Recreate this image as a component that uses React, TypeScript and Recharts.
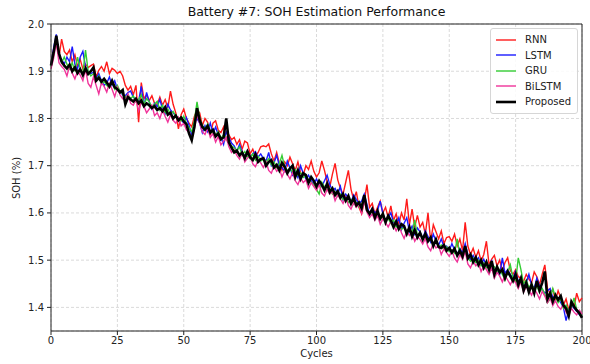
import React from 'react';
import { LineChart, Line, XAxis, YAxis, CartesianGrid, ReferenceLine, Legend } from 'recharts';

const FONT = '"DejaVu Sans", Verdana, sans-serif';

// cycle index 0..200
const cycles = Array.from({ length: 201 }, (_, i) => i);

const xTicks = [0, 25, 50, 75, 100, 125, 150, 175, 200];
const yTicks = [1.4, 1.5, 1.6, 1.7, 1.8, 1.9, 2.0];

const rnn = [
  1.915, 1.945, 1.960, 1.930, 1.968, 1.942, 1.935, 1.945, 1.920, 1.935,
  1.910, 1.925, 1.905, 1.915, 1.908, 1.912, 1.915, 1.888, 1.902, 1.910,
  1.900, 1.920, 1.895, 1.906, 1.902, 1.895, 1.900, 1.890, 1.870, 1.860,
  1.868, 1.850, 1.870, 1.792, 1.876, 1.842, 1.850, 1.838, 1.848, 1.832,
  1.830, 1.845, 1.828, 1.840, 1.822, 1.858, 1.830, 1.812, 1.778, 1.808,
  1.820, 1.800, 1.790, 1.782, 1.804, 1.818, 1.812, 1.785, 1.800, 1.792,
  1.764, 1.790, 1.795, 1.775, 1.770, 1.782, 1.755, 1.765, 1.755, 1.760,
  1.745, 1.755, 1.735, 1.752, 1.748, 1.725, 1.735, 1.720, 1.728, 1.740,
  1.742, 1.740, 1.746, 1.725, 1.710, 1.728, 1.705, 1.690, 1.708, 1.700,
  1.718, 1.704, 1.690, 1.708, 1.685, 1.680, 1.700, 1.692, 1.710, 1.688,
  1.676, 1.685, 1.710, 1.690, 1.666, 1.655, 1.682, 1.705, 1.670, 1.652,
  1.640, 1.665, 1.690, 1.650, 1.628, 1.645, 1.612, 1.598, 1.625, 1.660,
  1.612, 1.620, 1.598, 1.612, 1.625, 1.600, 1.612, 1.590, 1.615, 1.584,
  1.598, 1.575, 1.600, 1.585, 1.630, 1.575, 1.608, 1.570, 1.595, 1.570,
  1.580, 1.555, 1.600, 1.540, 1.575, 1.560, 1.545, 1.562, 1.535, 1.548,
  1.550, 1.540, 1.555, 1.530, 1.545, 1.520, 1.580, 1.530, 1.512, 1.525,
  1.506, 1.520, 1.498, 1.512, 1.540, 1.490, 1.502, 1.510, 1.488, 1.500,
  1.478, 1.495, 1.505, 1.478, 1.470, 1.480, 1.465, 1.462, 1.455, 1.470,
  1.460, 1.452, 1.475, 1.465, 1.448, 1.470, 1.490, 1.440, 1.430, 1.438,
  1.415, 1.435, 1.420, 1.405, 1.418, 1.395, 1.408, 1.400, 1.430, 1.412,
  1.420,
];

const lstm = [
  1.915, 1.950, 1.978, 1.930, 1.925, 1.915, 1.930, 1.920, 1.952, 1.915,
  1.905, 1.930, 1.942, 1.910, 1.900, 1.895, 1.898, 1.885, 1.895, 1.880,
  1.870, 1.875, 1.888, 1.870, 1.880, 1.862, 1.858, 1.850, 1.848, 1.855,
  1.858, 1.845, 1.840, 1.836, 1.868, 1.825, 1.855, 1.835, 1.820, 1.832,
  1.825, 1.840, 1.820, 1.810, 1.830, 1.818, 1.812, 1.805, 1.800, 1.798,
  1.790, 1.802, 1.785, 1.765, 1.790, 1.800, 1.790, 1.770, 1.785, 1.772,
  1.790, 1.768, 1.782, 1.765, 1.760, 1.745, 1.772, 1.760, 1.748, 1.742,
  1.730, 1.745, 1.728, 1.720, 1.732, 1.718, 1.725, 1.730, 1.718, 1.725,
  1.715, 1.710, 1.728, 1.700, 1.706, 1.722, 1.700, 1.696, 1.688, 1.710,
  1.695, 1.680, 1.690, 1.675, 1.700, 1.684, 1.672, 1.680, 1.668, 1.662,
  1.672, 1.660, 1.656, 1.668, 1.680, 1.660, 1.648, 1.652, 1.640, 1.656,
  1.628, 1.640, 1.632, 1.622, 1.638, 1.628, 1.620, 1.625, 1.640, 1.618,
  1.596, 1.610, 1.600, 1.605, 1.625, 1.598, 1.585, 1.590, 1.600, 1.580,
  1.575, 1.590, 1.565, 1.578, 1.590, 1.560, 1.572, 1.555, 1.568, 1.560,
  1.545, 1.562, 1.550, 1.538, 1.555, 1.540, 1.532, 1.545, 1.528, 1.530,
  1.520, 1.535, 1.522, 1.512, 1.525, 1.515, 1.535, 1.512, 1.500, 1.510,
  1.496, 1.505, 1.490, 1.502, 1.488, 1.485, 1.498, 1.478, 1.485, 1.470,
  1.505, 1.472, 1.480, 1.470, 1.462, 1.476, 1.455, 1.460, 1.445, 1.452,
  1.470, 1.448, 1.440, 1.462, 1.445, 1.438, 1.430, 1.435, 1.440, 1.420,
  1.425, 1.418, 1.410, 1.400, 1.372, 1.395, 1.405, 1.398, 1.392, 1.385,
  1.380,
];

const gru = [
  1.910, 1.940, 1.970, 1.935, 1.918, 1.930, 1.915, 1.905, 1.918, 1.900,
  1.930, 1.905, 1.895, 1.945, 1.900, 1.890, 1.895, 1.880, 1.890, 1.872,
  1.878, 1.870, 1.865, 1.878, 1.862, 1.870, 1.858, 1.852, 1.845, 1.850,
  1.842, 1.848, 1.835, 1.840, 1.850, 1.830, 1.842, 1.835, 1.825, 1.830,
  1.836, 1.818, 1.828, 1.812, 1.820, 1.808, 1.815, 1.805, 1.800, 1.795,
  1.805, 1.790, 1.780, 1.772, 1.795, 1.835, 1.800, 1.785, 1.778, 1.788,
  1.775, 1.770, 1.765, 1.772, 1.758, 1.765, 1.760, 1.748, 1.742, 1.738,
  1.732, 1.740, 1.722, 1.730, 1.720, 1.715, 1.725, 1.712, 1.720, 1.710,
  1.714, 1.708, 1.715, 1.702, 1.708, 1.696, 1.704, 1.722, 1.698, 1.690,
  1.695, 1.685, 1.692, 1.680, 1.685, 1.675, 1.680, 1.670, 1.665, 1.660,
  1.650, 1.640, 1.665, 1.655, 1.648, 1.652, 1.640, 1.645, 1.635, 1.640,
  1.628, 1.632, 1.622, 1.628, 1.618, 1.622, 1.612, 1.618, 1.628, 1.605,
  1.598, 1.602, 1.592, 1.598, 1.588, 1.592, 1.582, 1.588, 1.578, 1.585,
  1.570, 1.575, 1.565, 1.570, 1.560, 1.568, 1.556, 1.585, 1.552, 1.558,
  1.545, 1.550, 1.540, 1.545, 1.535, 1.540, 1.528, 1.532, 1.522, 1.528,
  1.518, 1.522, 1.515, 1.545, 1.510, 1.515, 1.520, 1.505, 1.498, 1.504,
  1.495, 1.500, 1.488, 1.494, 1.484, 1.490, 1.480, 1.486, 1.475, 1.480,
  1.470, 1.458, 1.475, 1.490, 1.462, 1.455, 1.505, 1.480, 1.450, 1.458,
  1.442, 1.450, 1.438, 1.445, 1.432, 1.440, 1.428, 1.410, 1.418, 1.440,
  1.422, 1.410, 1.418, 1.398, 1.405, 1.392, 1.400, 1.420, 1.395, 1.388,
  1.382,
];

const bilstm = [
  1.905, 1.928, 1.962, 1.918, 1.910, 1.904, 1.890, 1.912, 1.896, 1.884,
  1.900, 1.892, 1.880, 1.904, 1.874, 1.866, 1.888, 1.870, 1.852, 1.876,
  1.868, 1.856, 1.874, 1.862, 1.846, 1.866, 1.850, 1.842, 1.838, 1.852,
  1.832, 1.828, 1.840, 1.816, 1.834, 1.826, 1.812, 1.820, 1.828, 1.806,
  1.812, 1.800, 1.818, 1.804, 1.792, 1.808, 1.796, 1.790, 1.802, 1.784,
  1.790, 1.776, 1.770, 1.756, 1.778, 1.808, 1.790, 1.772, 1.766, 1.780,
  1.760, 1.768, 1.750, 1.762, 1.744, 1.752, 1.760, 1.740, 1.728, 1.734,
  1.722, 1.714, 1.728, 1.708, 1.716, 1.722, 1.704, 1.698, 1.712, 1.706,
  1.696, 1.708, 1.690, 1.684, 1.700, 1.688, 1.694, 1.676, 1.690, 1.682,
  1.672, 1.686, 1.668, 1.660, 1.674, 1.664, 1.670, 1.652, 1.664, 1.656,
  1.648, 1.660, 1.642, 1.636, 1.650, 1.640, 1.646, 1.626, 1.638, 1.630,
  1.620, 1.634, 1.616, 1.608, 1.622, 1.612, 1.618, 1.600, 1.626, 1.602,
  1.590, 1.598, 1.584, 1.594, 1.576, 1.588, 1.580, 1.570, 1.582, 1.574,
  1.562, 1.574, 1.558, 1.546, 1.562, 1.552, 1.558, 1.540, 1.550, 1.544,
  1.534, 1.546, 1.528, 1.520, 1.536, 1.526, 1.530, 1.512, 1.524, 1.516,
  1.508, 1.520, 1.504, 1.496, 1.512, 1.502, 1.518, 1.492, 1.484, 1.498,
  1.488, 1.494, 1.476, 1.488, 1.480, 1.470, 1.484, 1.462, 1.474, 1.466,
  1.454, 1.468, 1.458, 1.448, 1.460, 1.452, 1.440, 1.454, 1.432, 1.444,
  1.436, 1.426, 1.440, 1.430, 1.418, 1.434, 1.424, 1.410, 1.420, 1.404,
  1.414, 1.402, 1.396, 1.408, 1.390, 1.382, 1.398, 1.390, 1.384, 1.394,
  1.386,
];

const proposed = [
  1.912, 1.940, 1.975, 1.938, 1.920, 1.912, 1.906, 1.914, 1.900, 1.908,
  1.896, 1.904, 1.892, 1.906, 1.894, 1.900, 1.908, 1.880, 1.886, 1.878,
  1.884, 1.876, 1.868, 1.880, 1.866, 1.862, 1.855, 1.860, 1.830, 1.845,
  1.840, 1.836, 1.842, 1.832, 1.838, 1.826, 1.832, 1.828, 1.822, 1.826,
  1.818, 1.822, 1.815, 1.824, 1.808, 1.812, 1.800, 1.806, 1.796, 1.802,
  1.794, 1.788, 1.768, 1.754, 1.782, 1.822, 1.796, 1.782, 1.776, 1.784,
  1.770, 1.776, 1.762, 1.768, 1.756, 1.760, 1.800, 1.750, 1.738, 1.728,
  1.732, 1.722, 1.728, 1.716, 1.730, 1.718, 1.712, 1.724, 1.708, 1.714,
  1.716, 1.700, 1.708, 1.712, 1.696, 1.702, 1.690, 1.706, 1.698, 1.684,
  1.694, 1.700, 1.676, 1.690, 1.672, 1.684, 1.680, 1.664, 1.676, 1.668,
  1.656, 1.668, 1.660, 1.648, 1.662, 1.644, 1.652, 1.638, 1.646, 1.632,
  1.640, 1.626, 1.636, 1.620, 1.632, 1.616, 1.622, 1.610, 1.638, 1.606,
  1.598, 1.608, 1.590, 1.604, 1.588, 1.598, 1.580, 1.594, 1.584, 1.570,
  1.582, 1.566, 1.576, 1.572, 1.556, 1.570, 1.550, 1.564, 1.548, 1.558,
  1.544, 1.556, 1.540, 1.548, 1.530, 1.544, 1.528, 1.526, 1.532, 1.520,
  1.526, 1.516, 1.524, 1.510, 1.520, 1.508, 1.530, 1.504, 1.512, 1.496,
  1.506, 1.490, 1.500, 1.484, 1.496, 1.480, 1.498, 1.470, 1.486, 1.474,
  1.480, 1.462, 1.476, 1.466, 1.456, 1.470, 1.448, 1.462, 1.436, 1.452,
  1.432, 1.448, 1.430, 1.456, 1.436, 1.452, 1.476, 1.418, 1.430, 1.412,
  1.426, 1.416, 1.424, 1.404, 1.398, 1.382, 1.412, 1.402, 1.394, 1.388,
  1.378,
];

const series = [
  { key: 'rnn', name: 'RNN', color: '#ff1a1a', width: 1.4 },
  { key: 'lstm', name: 'LSTM', color: '#1a1aff', width: 1.4 },
  { key: 'gru', name: 'GRU', color: '#33cc33', width: 1.4 },
  { key: 'bilstm', name: 'BiLSTM', color: '#f0339a', width: 1.4 },
  { key: 'proposed', name: 'Proposed', color: '#000000', width: 2.6 },
];

const rows = cycles.map((c, i) => ({
  cycle: c,
  rnn: rnn[i],
  lstm: lstm[i],
  gru: gru[i],
  bilstm: bilstm[i],
  proposed: proposed[i],
}));

const LegendBox = () => (
  <div
    style={{
      border: '1px solid #d6d6d6',
      borderRadius: 3,
      background: 'rgba(255,255,255,0.85)',
      padding: '3px 6px 3px 4px',
      fontFamily: FONT,
      fontSize: 10,
      color: '#222',
    }}
  >
    {series.map((s) => (
      <div key={s.key} style={{ display: 'flex', alignItems: 'center', height: 15.5 }}>
        <svg width={22} height={10}>
          <line x1={1} x2={21} y1={5} y2={5} stroke={s.color} strokeWidth={s.width} />
        </svg>
        <span style={{ marginLeft: 8 }}>{s.name}</span>
      </div>
    ))}
  </div>
);

const App: React.FC = () => {
  const axisStroke = '#222';
  const tickStyle = { fill: '#222', fontSize: 10, fontFamily: FONT };

  return (
    <div style={{ position: 'absolute', left: 0, top: 0, width: 590, height: 364, background: '#fff', fontFamily: FONT }}>
      <div style={{ position: 'absolute', left: 51, width: 531, top: 4, textAlign: 'center', fontSize: 12.5, color: '#111' }}>
        Battery #7: SOH Estimation Performance
      </div>
      <div
        style={{
          position: 'absolute', left: 16, top: 178, fontSize: 10, color: '#222',
          transform: 'translate(-50%, -50%) rotate(-90deg)', whiteSpace: 'nowrap',
        }}
      >
        SOH (%)
      </div>
      <div style={{ position: 'absolute', left: 51, width: 531, top: 348, textAlign: 'center', fontSize: 10, color: '#222' }}>
        Cycles
      </div>

      <LineChart width={590} height={364} data={rows} margin={{ top: 24, right: 8, bottom: 0, left: 0 }}>
        <CartesianGrid stroke="#dadada" strokeDasharray="3 2" />
        <XAxis
          dataKey="cycle"
          type="number"
          domain={[0, 200]}
          ticks={xTicks}
          height={33}
          tickSize={4}
          tickMargin={2}
          tick={tickStyle}
          axisLine={{ stroke: axisStroke }}
          tickLine={{ stroke: axisStroke }}
        />
        <YAxis
          type="number"
          domain={[1.35, 2.0]}
          ticks={yTicks}
          width={51}
          tickSize={4}
          tickMargin={3}
          tick={tickStyle}
          tickFormatter={(v: number) => v.toFixed(1)}
          axisLine={{ stroke: axisStroke }}
          tickLine={{ stroke: axisStroke }}
          allowDataOverflow
        />
        <ReferenceLine y={2.0} stroke={axisStroke} />
        <ReferenceLine x={200} stroke={axisStroke} />
        <Legend
          layout="vertical"
          align="center"
          verticalAlign="middle"
          wrapperStyle={{ left: 490, top: 28, width: 'auto' }}
          content={() => <LegendBox />}
        />
        {series.map((s) => (
          <Line
            key={s.key}
            type="linear"
            dataKey={s.key}
            name={s.name}
            stroke={s.color}
            strokeWidth={s.width}
            dot={false}
            activeDot={false}
            isAnimationActive={false}
          />
        ))}
      </LineChart>
    </div>
  );
};

export default App;
